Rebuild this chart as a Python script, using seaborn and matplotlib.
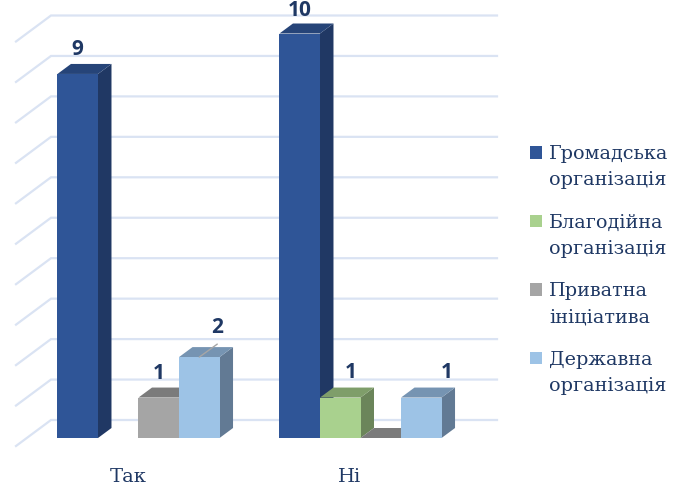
import numpy as np
import pandas as pd
import matplotlib
matplotlib.use("Agg")
import matplotlib.pyplot as plt
from matplotlib.patches import Polygon, Patch
from matplotlib.transforms import ScaledTranslation
import seaborn as sns

categories = ["Так", "Ні"]
series = ["Громадська\nорганізація", "Благодійна\nорганізація", "Приватна\nініціатива", "Державна\nорганізація"]
hromadska = [9, 10]
blahodiina = [np.nan, 1]
pryvatna = [1, 0]
derzhavna = [2, 1]
all_values = [hromadska, blahodiina, pryvatna, derzhavna]

front = ["#2F5597", "#A9D18E", "#A5A5A5", "#9DC3E6"]
side = ["#203864", "#6B855A", "#7B7B7B", "#627A94"]
top = ["#264478", "#7F9E6A", "#7B7B7B", "#7694B2"]
NAVY = "#1F3864"
GRID = "#DAE3F3"
SERIF = "DejaVu Serif"
BOLD = "Open Sans"

df = pd.DataFrame(
    [(c, s, vals[i]) for s, vals in zip(series, all_values) for i, c in enumerate(categories)],
    columns=["category", "series", "value"],
)

W, H = 681, 491
BOTTOM_PX = 455
X0_PX, X_UNIT = 138.5, 222.0
Y0_PX, Y_UNIT = 438.0, 40.45
DEPTH_X, DEPTH_Y = 13.5, 10.0
LEGEND_SIZE = 13.8

fig = plt.figure(figsize=(W / 100, H / 100), dpi=100, facecolor="white")
ax = fig.add_axes([0, (H - BOTTOM_PX) / H, 1, BOTTOM_PX / H])

sns.barplot(data=df, x="category", y="value", hue="series", hue_order=series,
            order=categories, palette=front, width=0.73, gap=0, dodge=True,
            saturation=1, errorbar=None, legend=False, ax=ax, linewidth=0)

ax.set_xlim(-X0_PX / X_UNIT, (W - X0_PX) / X_UNIT)
ax.set_ylim(-(BOTTOM_PX - Y0_PX) / Y_UNIT, Y0_PX / Y_UNIT)
ax.set_xlabel("")
ax.set_ylabel("")
ax.set_yticks([])
for s in ax.spines.values():
    s.set_visible(False)
ax.tick_params(axis="x", length=0, pad=9, labelsize=14, labelcolor=NAVY)
ax.set_xticks(range(len(categories)), categories)
for lab in ax.get_xticklabels():
    lab.set_family(SERIF)
    lab.set_transform(lab.get_transform() + ScaledTranslation(-10.5 / 100, 0, fig.dpi_scale_trans))

px_x = 1 / X_UNIT
px_y = 1 / Y_UNIT
def to_x(px):
    return (px - X0_PX) / X_UNIT

# back wall and side wall gridlines
for v in range(0, 11):
    yb = v + 18 * px_y
    yf = v - 8 * px_y
    ax.plot([to_x(16), to_x(51), to_x(497)], [yf, yb, yb], color=GRID, lw=1.6, zorder=1,
            solid_joinstyle="miter", clip_on=False)

# extruded faces of each bar, drawn left to right
bars = []
for k, cont in enumerate(ax.containers):
    for b in cont:
        if np.isfinite(b.get_height()):
            bars.append((b.get_x(), k, b))
bars.sort(key=lambda t: t[0])
z = 3
for x_, k, b in bars:
    x0, w, h = b.get_x(), b.get_width(), b.get_height()
    dx, dy = DEPTH_X * px_x, DEPTH_Y * px_y
    ax.add_patch(Polygon([(x0 + w, 0), (x0 + w + dx, dy), (x0 + w + dx, h + dy), (x0 + w, h)],
                         closed=True, fc=side[k], ec="none", zorder=z))
    ax.add_patch(Polygon([(x0, h), (x0 + dx, h + dy), (x0 + w + dx, h + dy), (x0 + w, h)],
                         closed=True, fc=top[k], ec="none", zorder=z + 0.1))
    b.set_zorder(z + 0.2)
    z += 1

# value labels with their hand-placed offsets (px right, px up from the bar top)
offsets = {(0, 0): (0, 24), (0, 1): (0, 23), (2, 0): (0, 24), (3, 0): (18, 30),
           (1, 1): (11, 25), (3, 1): (26, 25)}
for k, cont in enumerate(ax.containers):
    for b in cont:
        h = b.get_height()
        if not np.isfinite(h) or h <= 0:
            continue
        cx = b.get_x() + b.get_width() / 2
        ox, oy = offsets[(k, int(round(cx)))]
        ax.annotate(f"{int(h)}", (cx, h),
                    xytext=(ox * 0.72, oy * 0.72), textcoords="offset points",
                    ha="center", va="center", fontsize=15, fontweight="bold",
                    family=BOLD, color=NAVY, zorder=30, annotation_clip=False)

# leader line of the "2" label
b = ax.containers[3][0]
ax.annotate("", (b.get_x() + b.get_width() / 2, b.get_height()),
            xytext=(18 * 0.72, 13 * 0.72), textcoords="offset points",
            arrowprops=dict(arrowstyle="-", color="#A6A6A6", lw=1, shrinkA=0, shrinkB=0), zorder=29)

handles = [Patch(fc=c, ec="none") for c in front]
hsize = 12 / (LEGEND_SIZE * 100 / 72)
leg = ax.legend(handles, series, loc="upper left", bbox_to_anchor=(530 / W, 1 - 145 / BOTTOM_PX),
                frameon=False, prop={"family": SERIF, "size": LEGEND_SIZE},
                labelcolor=NAVY, handlelength=hsize, handleheight=hsize,
                handletextpad=0.36, labelspacing=1.26, borderpad=0, borderaxespad=0)
for t in leg.get_texts():
    t.set_linespacing(1.6)
# swatches sit beside the first line of each two-line entry
for h_ in leg.legend_handles:
    h_.set_y(h_.get_y() + 15 * 0.72)

fig.savefig("out.png", dpi=100, facecolor="white")
